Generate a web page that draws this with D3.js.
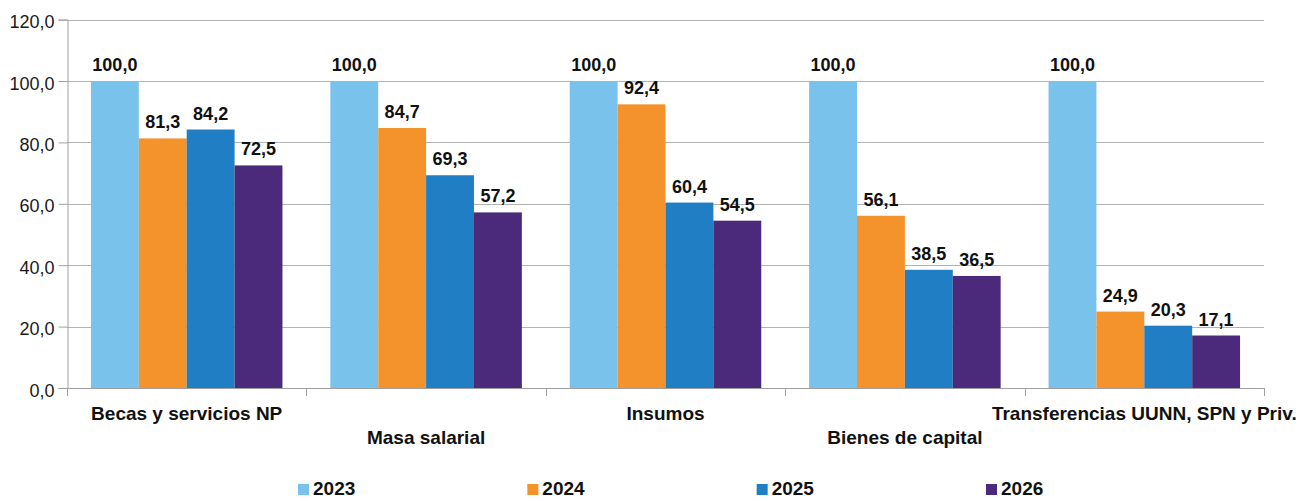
<!DOCTYPE html>
<html><head><meta charset="utf-8">
<script src="https://cdn.jsdelivr.net/npm/d3@7/dist/d3.min.js"></script>
<style>
html,body{margin:0;padding:0;background:#fff;}
svg{display:block;font-family:"Liberation Sans",Arial,sans-serif;}
</style></head>
<body>
<svg id="chart" width="1312" height="501"></svg>
<script>
const categories = ["Becas y servicios NP","Masa salarial","Insumos","Bienes de capital","Transferencias UUNN, SPN y Priv."];
const seriesNames = ["2023","2024","2025","2026"];
const values2023 = [100.0,100.0,100.0,100.0,100.0];
const values2024 = [81.3,84.7,92.4,56.1,24.9];
const values2025 = [84.2,69.3,60.4,38.5,20.3];
const values2026 = [72.5,57.2,54.5,36.5,17.1];
const yTicks = [0,20,40,60,80,100,120];
const colors = ["#78c2eb","#f4932c","#1f7ec4","#4b2a7b"];

const seriesValues = [values2023,values2024,values2025,values2026];
const svg = d3.select("#chart");
const L = 67, R = 1264, T = 19.6, B = 388;

const x0 = d3.scaleBand().domain(categories).range([L,R]).paddingInner(0.2).paddingOuter(0.1);
const x1 = d3.scaleBand().domain(seriesNames).range([0,x0.bandwidth()]).padding(0);
const y = d3.scaleLinear().domain([0,120]).range([B,T]);
const fmt = v => d3.format(".1f")(v).replace(".",",");

// gridlines
svg.append("g").selectAll("line").data(yTicks.filter(d=>d>0)).join("line")
  .attr("x1",L).attr("x2",R).attr("y1",d=>Math.round(y(d))+0.5).attr("y2",d=>Math.round(y(d))+0.5)
  .attr("stroke","#b4b4b4").attr("stroke-width",1);

// y axis
const yAxis = svg.append("g").attr("transform",`translate(${L+0.5},0)`)
  .call(d3.axisLeft(y).tickValues(yTicks).tickSize(9).tickPadding(4).tickFormat(fmt));
yAxis.select(".domain").attr("stroke","#a0a0a0");
yAxis.selectAll(".tick line").attr("stroke","#a0a0a0");
yAxis.selectAll(".tick text").attr("font-size",18).attr("fill","#1a1a1a")
  .attr("font-family","'Liberation Sans',Arial,sans-serif").attr("dy","0.45em");

// bars
const groups = svg.append("g").selectAll("g").data(categories).join("g")
  .attr("transform",d=>`translate(${x0(d)},0)`);
groups.selectAll("rect").data((c,i)=>seriesNames.map((s,j)=>({s,v:seriesValues[j][i],j}))).join("rect")
  .attr("x",d=>x1(d.s)).attr("width",x1.bandwidth())
  .attr("y",d=>y(d.v)).attr("height",d=>B-y(d.v))
  .attr("fill",d=>colors[d.j]);
groups.selectAll("text").data((c,i)=>seriesNames.map((s,j)=>({s,v:seriesValues[j][i],j}))).join("text")
  .attr("x",d=>x1(d.s)+x1.bandwidth()/2).attr("y",d=>y(d.v)-10)
  .attr("text-anchor","middle").attr("font-size",18).attr("font-weight","bold").attr("fill","#111")
  .text(d=>fmt(d.v));

// x axis
const step = x0.step();
const bounds = [L].concat(categories.map(c=>x0(c)+x0.bandwidth()+step*0.1));
svg.append("line").attr("x1",L).attr("x2",R).attr("y1",B+0.5).attr("y2",B+0.5).attr("stroke","#a0a0a0");
svg.append("g").selectAll("line").data(bounds).join("line")
  .attr("x1",d=>Math.round(d)+0.5).attr("x2",d=>Math.round(d)+0.5).attr("y1",B).attr("y2",B+8)
  .attr("stroke","#a0a0a0");
svg.append("g").selectAll("text").data(categories).join("text")
  .attr("x",d=>x0(d)+x0.bandwidth()/2).attr("y",(d,i)=>i%2===0?420:444)
  .attr("text-anchor","middle").attr("font-size",19).attr("font-weight","bold").attr("fill","#111")
  .text(d=>d);

// legend
const lx = d3.scalePoint().domain(seriesNames).range([298,986]);
const leg = svg.append("g").selectAll("g").data(seriesNames).join("g")
  .attr("transform",d=>`translate(${lx(d)},0)`);
leg.append("rect").attr("x",0).attr("y",484).attr("width",11).attr("height",11).attr("fill",(d,i)=>colors[i]);
leg.append("text").attr("x",15).attr("y",495).attr("font-size",19).attr("font-weight","bold").attr("fill","#111").text(d=>d);
</script>
</body></html>
